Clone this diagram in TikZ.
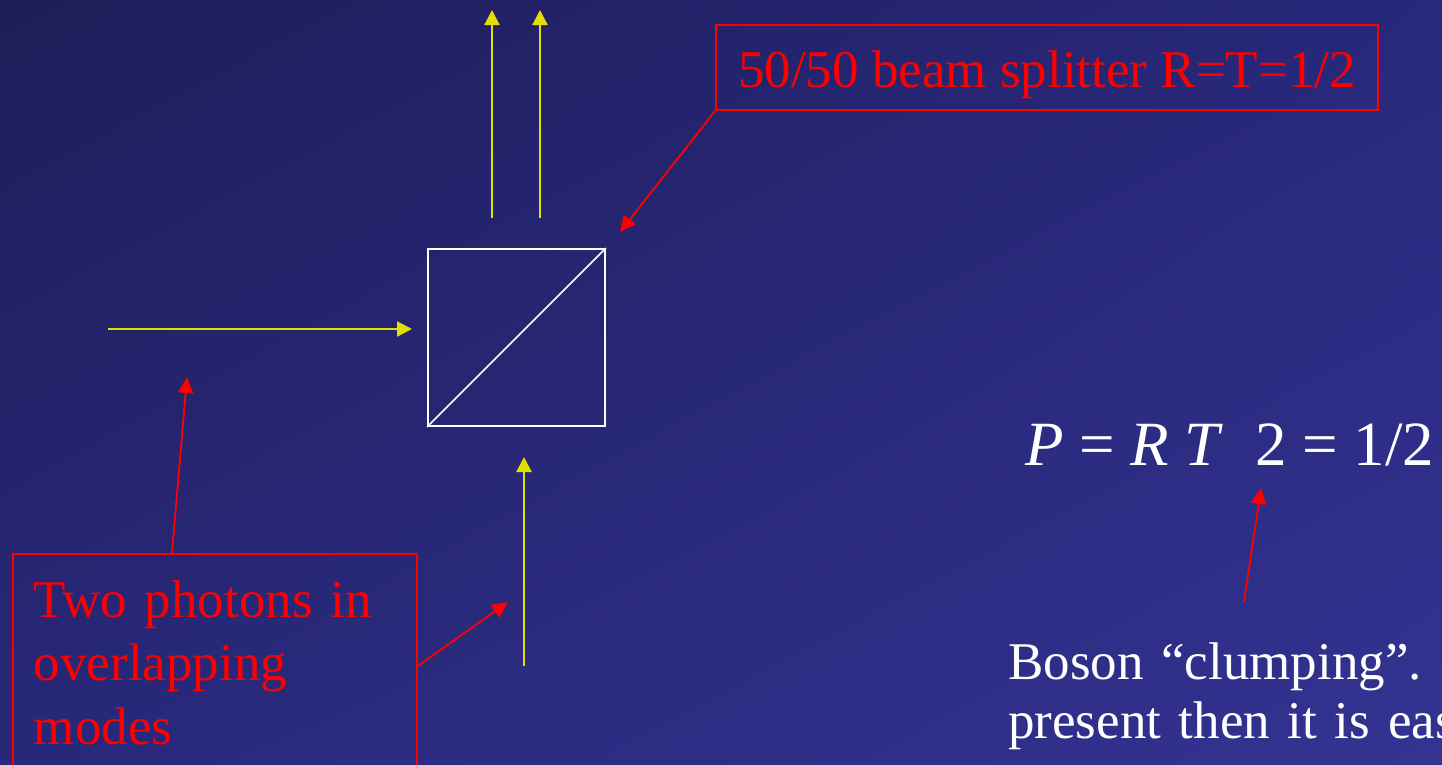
\documentclass[tikz,border=0pt]{standalone}
\usepackage{fontspec}
\setmainfont{Liberation Serif}
\usetikzlibrary{arrows.meta,shadings}
\definecolor{slideUL}{RGB}{30,29,88}
\definecolor{slideLL}{RGB}{40,40,122}
\definecolor{slideUR}{RGB}{40,40,124}
\definecolor{slideLR}{RGB}{51,51,146}
\definecolor{beamyel}{RGB}{224,224,0}

\begin{document}
\begin{tikzpicture}[
  x=1pt,y=-1pt,
  beam/.style={draw=beamyel,line width=2.2pt,-{Triangle[width=15pt,length=15pt]}},
  cube/.style={draw=white,line width=1.8pt,minimum size=177pt,inner sep=0pt},
  callout/.style={draw=red,line width=1.8pt,text=red,inner sep=0pt},
  pointer/.style={draw=red,line width=1.8pt,-{Triangle[width=15pt,length=16pt]}},
  big/.style={font=\fontsize{53}{63.5}\selectfont},
  plain/.style={text=white,inner sep=0pt},
]
\useasboundingbox (0,0) rectangle (1442,764);
\clip (0,0) rectangle (1442,764);
\shade[upper left=slideUL,lower left=slideLL,upper right=slideUR,lower right=slideLR] (0,0) rectangle (1442,764);

\node[cube] (bs) at (516.5,337.5) {};
\draw[draw=white,line width=1.6pt] (bs.south west) -- (bs.north east);

\coordinate (outA) at (492,218);
\coordinate (outAend) at (492,10);
\coordinate (outB) at (540,218);
\coordinate (outBend) at (540,10);
\coordinate (inH) at (108,329);
\coordinate (inHend) at (412,329);
\coordinate (inV) at (524,666);
\coordinate (inVend) at (524,457);
\draw[beam] (outA) -- (outAend);
\draw[beam] (outB) -- (outBend);
\draw[beam] (inH) -- (inHend);
\draw[beam] (inV) -- (inVend);

\node[callout,big,minimum width=662pt,minimum height=85pt,text height=40pt,text depth=1pt] (bslabel) at (1047,67.5) {50/50 beam splitter R=T=1/2};
\coordinate (bstip) at (620,232);
\draw[pointer] (bslabel.south west) -- (bstip);

\node[callout,big,anchor=north west,align=left,text width=362pt,inner xsep=21pt,inner ysep=26.8pt] (photons) at (12,553) {Two photons in\\overlapping\\modes\strut};
\coordinate (photontip) at (508,602);
\coordinate (intip) at (187,377);
\draw[pointer] ([yshift=-113pt]photons.north east) -- (photontip);
\draw[pointer] ([xshift=160pt]photons.north west) -- (intip);

\node[plain,anchor=base west,font=\fontsize{63}{70}\selectfont] (prob) at (1025,465) {\textit{P} = \textit{R T}\hspace{0.25em} 2 = 1/2};
\coordinate (clumpfoot) at (1244,602);
\coordinate (clumptip) at (1261,488);
\draw[pointer] (clumpfoot) -- (clumptip);

\node[plain,anchor=north west,align=left,text width=500pt,font=\fontsize{53}{59}\selectfont] (boson) at (1008,642.8) {Boson “clumping”.\\present then it is eas};
\end{tikzpicture}
\end{document}
